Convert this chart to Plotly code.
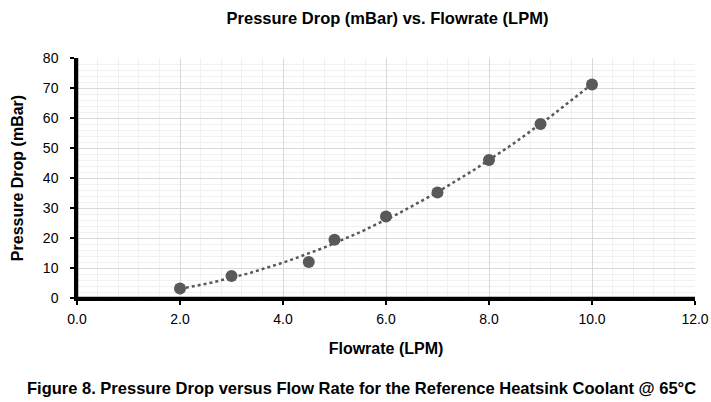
import numpy as np
import plotly.graph_objects as go

flowrate = [2.0, 3.0, 4.5, 5.0, 6.0, 7.0, 8.0, 9.0, 10.0]
pressure_drop = [3.2, 7.3, 12.0, 19.4, 27.2, 35.2, 46.0, 58.0, 71.2]

x_ticks = [0, 2, 4, 6, 8, 10, 12]
x_tick_labels = ["0.0", "2.0", "4.0", "6.0", "8.0", "10.0", "12.0"]
y_ticks = [0, 10, 20, 30, 40, 50, 60, 70, 80]

# Excel-style 2nd order polynomial trendline fitted to the data
coef = np.polyfit(flowrate, pressure_drop, 2)
tx = np.linspace(min(flowrate), max(flowrate), 100)
ty = np.polyval(coef, tx)

FONT = "Liberation Sans, Arial, sans-serif"
grey = "#595959"

fig = go.Figure()
fig.add_trace(go.Scatter(x=tx, y=ty, mode="lines",
                         line=dict(color=grey, width=2.5, dash="dot"),
                         hoverinfo="skip", showlegend=False))
fig.add_trace(go.Scatter(x=flowrate, y=pressure_drop, mode="markers",
                         marker=dict(color=grey, size=12),
                         showlegend=False))

fig.update_layout(
    width=711, height=402,
    margin=dict(l=77, r=16, t=58, b=104),
    paper_bgcolor="white", plot_bgcolor="white",
    font=dict(family=FONT, color="black"),
    title=dict(text="<b>Pressure Drop (mBar) vs. Flowrate (LPM)</b>",
               x=0.545, xanchor="center", y=0.97, yanchor="top",
               font=dict(size=16.5, family=FONT, color="black")),
)
fig.update_xaxes(
    range=[0, 12], tickvals=x_ticks, ticktext=x_tick_labels,
    showline=True, linecolor="black", linewidth=2.5,
    ticks="outside", ticklen=4, tickcolor="black", tickwidth=1.5,
    ticklabelstandoff=2,
    showgrid=True, gridcolor="#d9d9d9", gridwidth=1,
    minor=dict(dtick=0.4, showgrid=True, gridcolor="#f0f0f0", gridwidth=1),
    zeroline=False, automargin=False,
    tickfont=dict(size=14, family=FONT, color="black"),
    title=dict(text="<b>Flowrate (LPM)</b>", standoff=18,
               font=dict(size=16, family=FONT, color="black")),
)
fig.update_yaxes(
    range=[0, 80], tickvals=y_ticks,
    showline=True, linecolor="black", linewidth=2.5,
    ticks="outside", ticklen=4, tickcolor="black", tickwidth=1.5,
    ticklabelstandoff=9,
    showgrid=True, gridcolor="#d9d9d9", gridwidth=1,
    minor=dict(dtick=2, showgrid=True, gridcolor="#f0f0f0", gridwidth=1),
    zeroline=False, automargin=False,
    tickfont=dict(size=14, family=FONT, color="black"),
    title=dict(text="<b>Pressure Drop (mBar)</b>", standoff=16,
               font=dict(size=16, family=FONT, color="black")),
)
# axis lines drawn along the plot-area edges (domain coordinates)
fig.add_shape(type="line", xref="x domain", yref="y domain",
              x0=0, x1=1, y0=0, y1=0, layer="above",
              line=dict(color="black", width=2.5))
fig.add_shape(type="line", xref="x domain", yref="y domain",
              x0=0, x1=0, y0=0, y1=1, layer="above",
              line=dict(color="black", width=2.5))
fig.add_annotation(
    text="<b>Figure 8. Pressure Drop versus Flow Rate for the Reference Heatsink Coolant @ 65°C</b>",
    xref="paper", yref="paper", x=0.46, y=-0.375, xanchor="center", yanchor="middle",
    showarrow=False, font=dict(size=16.5, family=FONT, color="black"),
)
fig.write_html("out.html", config={"displayModeBar": False},
               post_script="document.body.style.margin='0';document.body.style.overflow='hidden';")
